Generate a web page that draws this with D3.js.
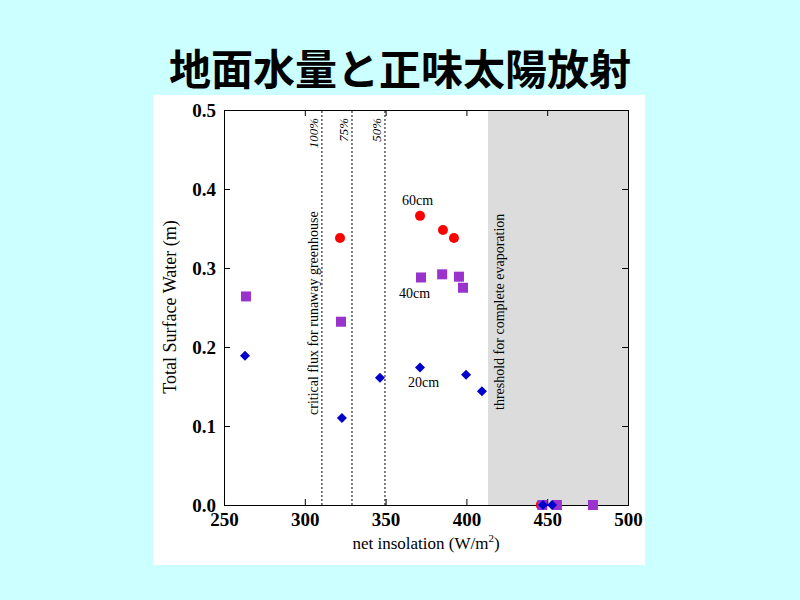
<!DOCTYPE html>
<html><head><meta charset="utf-8">
<script src="https://cdn.jsdelivr.net/npm/d3@7"></script>
<style>body{margin:0;background:#ccffff;}</style>
</head><body>
<div id="chart"></div>
<script>
const title = "地面水量と正味太陽放射";
const red60 = [[321.8,0.338],[371.3,0.366],[385.5,0.348],[392.3,0.338],[446,0]];
const purple40 = [[263.6,0.264],[322.4,0.232],[371.9,0.288],[385,0.292],[395.4,0.289],[397.9,0.275],[447,0],[456,0],[478.3,0]];
const blue20 = [[263,0.189],[323,0.11],[346.5,0.161],[371.3,0.174],[399.8,0.165],[409.6,0.144],[447.4,0],[453,0]];
const critLines = [[310.6,"100%"],[329.2,"75%"],[349.6,"50%"]];
const evapStart = 413.4;
const xTicks = [250,300,350,400,450,500];
const yTicks = [0,0.1,0.2,0.3,0.4,0.5];

const svg = d3.select("#chart").append("svg").attr("width",800).attr("height",600);
svg.append("text").attr("x",400).attr("y",85).attr("text-anchor","middle")
  .attr("font-family","Noto Sans CJK JP").attr("font-size",42).attr("font-weight","bold").text(title);
svg.append("rect").attr("x",153).attr("y",95).attr("width",492).attr("height",470).attr("fill","#fff");

const x = d3.scaleLinear().domain([250,500]).range([224,628]);
const y = d3.scaleLinear().domain([0,0.5]).range([505,110]);
const font = "Liberation Serif";

svg.append("rect").attr("x",x(evapStart)).attr("y",y(0.5)).attr("width",x(500)-x(evapStart))
  .attr("height",y(0)-y(0.5)).attr("fill","#dcdcdc");

critLines.forEach(([v,l])=>{
  svg.append("line").attr("x1",x(v)).attr("x2",x(v)).attr("y1",y(0)).attr("y2",y(0.5))
    .attr("stroke","#000").attr("stroke-dasharray","2,2");
  svg.append("text").attr("transform",`translate(${x(v)-4},${y(0.5)+8}) rotate(-90)`)
    .attr("text-anchor","end").attr("font-family",font).attr("font-size",13).attr("font-style","italic").text(l);
});
svg.append("text").attr("transform",`translate(${x(310.6)-4},415) rotate(-90)`)
  .attr("font-family",font).attr("font-size",14).text("critical flux for runaway greenhouse");
svg.append("text").attr("transform",`translate(${x(evapStart)+16},410) rotate(-90)`)
  .attr("font-family",font).attr("font-size",14).text("threshold for complete evaporation");

svg.append("g").attr("transform","translate(0,505)")
  .call(d3.axisBottom(x).tickValues(xTicks).tickSize(-6).tickPadding(8));
svg.append("g").attr("transform","translate(0,110)")
  .call(d3.axisTop(x).tickValues(xTicks).tickSize(-6).tickFormat(""));
svg.append("g").attr("transform","translate(224,0)")
  .call(d3.axisLeft(y).tickValues(yTicks).tickSize(-6).tickPadding(8).tickFormat(d3.format(".1f")));
svg.append("g").attr("transform","translate(628,0)")
  .call(d3.axisRight(y).tickValues(yTicks).tickSize(-6).tickFormat(""));
svg.selectAll(".tick text").attr("font-family",font).attr("font-size",19).attr("font-weight","bold");
svg.selectAll(".domain").attr("stroke","#000");

svg.append("text").attr("x",426).attr("y",549).attr("text-anchor","middle")
  .attr("font-family",font).attr("font-size",17).html("net insolation (W/m<tspan dy='-7' font-size='11'>2</tspan><tspan dy='7'>)</tspan>");
svg.append("text").attr("transform","translate(176,307) rotate(-90)").attr("text-anchor","middle")
  .attr("font-family",font).attr("font-size",18).text("Total Surface Water (m)");

svg.selectAll(".c").data(red60).enter().append("circle")
  .attr("cx",d=>x(d[0])).attr("cy",d=>y(d[1])).attr("r",5).attr("fill","#ff0000");
svg.selectAll(".s").data(purple40).enter().append("rect")
  .attr("x",d=>x(d[0])-5).attr("y",d=>y(d[1])-5).attr("width",10).attr("height",10).attr("fill","#9933cc");
svg.selectAll(".d").data(blue20).enter().append("path")
  .attr("d","M0,-5L5,0L0,5L-5,0Z").attr("transform",d=>`translate(${x(d[0])},${y(d[1])})`).attr("fill","#0000cc");

[["60cm",402,205],["40cm",399,298],["20cm",408,387]].forEach(([t,a,b])=>
  svg.append("text").attr("x",a).attr("y",b).attr("font-family",font).attr("font-size",14).text(t));
</script>
</body></html>
